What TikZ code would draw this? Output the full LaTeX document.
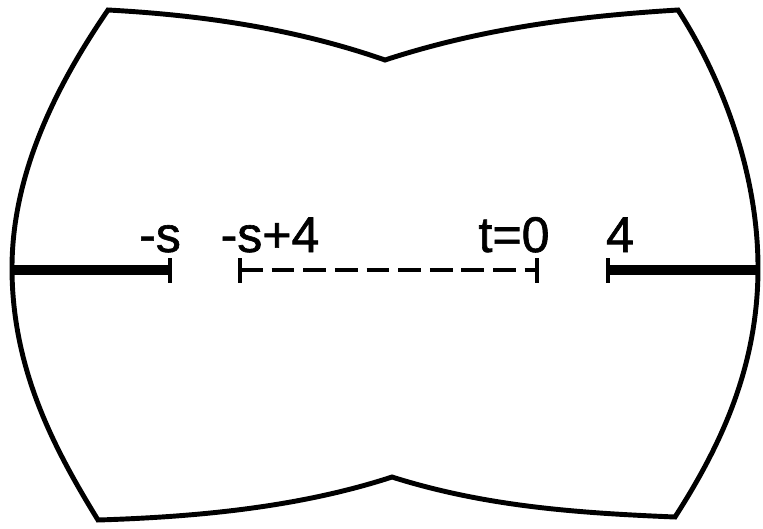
\documentclass[tikz,border=0pt]{standalone}
\usepackage{fontspec}
\setmainfont{Liberation Sans}[FakeBold=1.2]
\begin{document}
\begin{tikzpicture}[x=0.02cm,y=-0.02cm,
  outline/.style={line width=2.8pt,line join=miter},
  thickbar/.style={line width=5.5pt},
  dashbar/.style={line width=2.8pt,dash pattern=on 13pt off 5pt},
  tickmark/.style={line width=2.8pt},
  lbl/.style={font=\fontsize{28.5}{30}\selectfont,inner sep=0pt,anchor=base}]
\useasboundingbox (0,0) rectangle (763,528);
% outline
\draw[outline] (108,10) .. controls (200,15) and (293,28) .. (385,60)
  .. controls (483,28) and (580,16) .. (678,10)
  .. controls (720,75) and (758,170) .. (758,268)
  .. controls (758,370) and (718,450) .. (675,517)
  .. controls (580,513) and (487,507) .. (392,477)
  .. controls (297,508) and (193,517) .. (98,520)
  .. controls (55,450) and (12,370) .. (12,268)
  .. controls (12,170) and (60,80) .. cycle;
% coordinates
\coordinate (L0) at (12,270);
\coordinate (L1) at (170,270);
\coordinate (D0) at (240,270);
\coordinate (D1) at (537,270);
\coordinate (R0) at (608,270);
\coordinate (R1) at (758,270);
% bars
\draw[thickbar] (L0) -- (L1);
\draw[thickbar] (R0) -- (R1);
\draw[dashbar] (D0) -- (D1);
\foreach \c in {L1,D0,D1,R0}{
  \draw[tickmark] ([yshift=0.24cm]\c) -- ([yshift=-0.26cm]\c);
}
% labels
\node[lbl] (ls) at (160,252) {-s};
\node[lbl] (ls4) at (270,252) {-s+4};
\node[lbl] (lt) at (514,252) {t=0};
\node[lbl] (l4) at (620,252) {4};
\end{tikzpicture}
\end{document}
